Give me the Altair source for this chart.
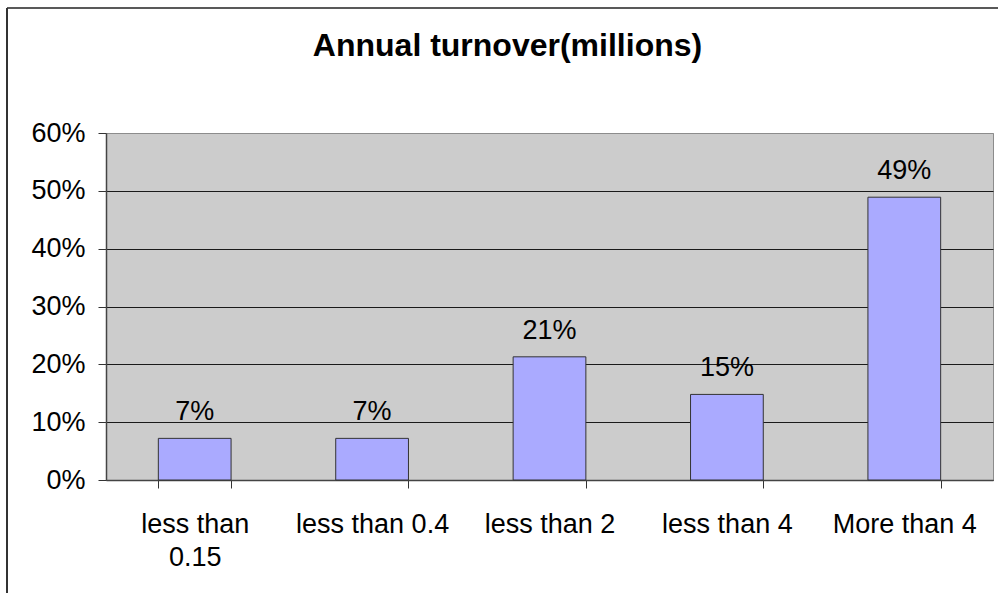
import altair as alt
import pandas as pd

# Share of firms by annual turnover band (millions)
categories = ["less than\n0.15", "less than 0.4", "less than 2", "less than 4", "More than 4"]
shares = [0.072, 0.072, 0.213, 0.148, 0.489]
y_ticks = [0.0, 0.1, 0.2, 0.3, 0.4, 0.5, 0.6]

df = pd.DataFrame({"band": categories, "share": shares})

FONT = "Liberation Sans"
LABEL_SIZE = 27

x_enc = alt.X(
    "band:N",
    sort=categories,
    title=None,
    scale=alt.Scale(paddingInner=0.59, paddingOuter=0.295),
    axis=alt.Axis(
        labelAngle=0,
        labelExpr="split(datum.label, '\\n')",
        labelLineHeight=33,
        labelFont=FONT,
        labelFontSize=LABEL_SIZE,
        labelColor="black",
        labelPadding=23,
        labelBaseline="top",
        tickBand="extent",
        tickSize=8,
        tickColor="#333333",
        domainColor="#444444",
        domainWidth=1.5,
        grid=False,
    ),
)

y_enc = alt.Y(
    "share:Q",
    title=None,
    scale=alt.Scale(domain=[0, 0.6], nice=False),
    axis=alt.Axis(
        values=y_ticks,
        format=".0%",
        labelFont=FONT,
        labelFontSize=LABEL_SIZE,
        labelColor="black",
        labelPadding=13,
        tickSize=8,
        tickColor="#333333",
        domainColor="#444444",
        domainWidth=1.5,
        grid=True,
        gridColor={"condition": {"test": "datum.value >= 0.6", "value": "#8C8C8C"}, "value": "#1A1A1A"},
        gridWidth=1,
    ),
)

bars = alt.Chart(df).mark_bar(
    color="#AAAAFF", stroke="#333333", strokeWidth=1
).encode(x=x_enc, y=y_enc)

labels = alt.Chart(df).mark_text(
    baseline="alphabetic", dy=-18, font=FONT, fontSize=LABEL_SIZE, color="black"
).encode(x=x_enc, y=y_enc, text=alt.Text("share:Q", format=".0%"))

# Outer chart frame (top and left edges)
edge = pd.DataFrame({"k": [0]})
frame_top = alt.Chart(edge).mark_rule(color="#222222", strokeWidth=1.5).encode(
    x=alt.value(-99), x2=alt.value(900), y=alt.value(-125)
)
frame_left = alt.Chart(edge).mark_rule(color="#333333", strokeWidth=2).encode(
    x=alt.value(-99), y=alt.value(-125), y2=alt.value(470)
)

chart = (
    alt.layer(bars, labels, frame_top, frame_left)
    .properties(
        width=887,
        height=347,
        title=alt.TitleParams(
            "Annual turnover(millions)",
            font=FONT,
            fontSize=32,
            fontWeight="bold",
            color="black",
            anchor="middle",
            frame="group",
            baseline="alphabetic",
            dx=-42,
            offset=-81,
        ),
        padding={"left": 106, "top": 133, "right": 5, "bottom": 113},
        autosize=alt.AutoSizeParams(type="none"),
    )
    .configure(background="white")
    .configure_view(fill="#CCCCCC", stroke="#8C8C8C")
)

chart.save("out.html", embed_options={"renderer": "svg", "actions": False})
